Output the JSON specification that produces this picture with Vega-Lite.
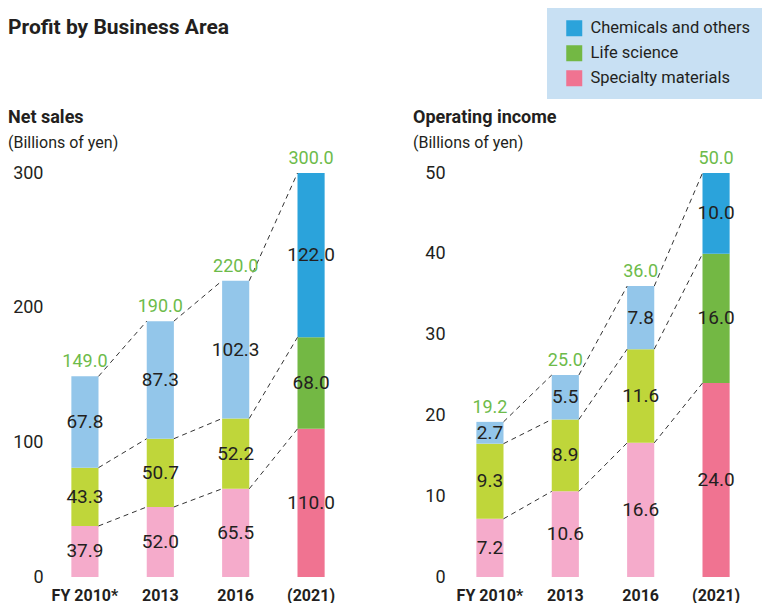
{
  "$schema": "https://vega.github.io/schema/vega-lite/v6.json",
  "autosize": {"type": "pad"},
  "padding": {"left": 8, "top": 8, "right": 0, "bottom": 0},
  "background": "white",
  "title": {"text": "Profit by Business Area", "anchor": "start", "frame": "group", "dx": -40, "offset": -30, "fontSize": 21, "fontWeight": "bold", "color": "#231f20"},
  "datasets": {
    "bars": [
      {"panel": "sales", "year": "FY 2010*", "segment": "Specialty materials", "value": 37.9},
      {"panel": "sales", "year": "FY 2010*", "segment": "Life science", "value": 43.3},
      {"panel": "sales", "year": "FY 2010*", "segment": "Chemicals and others", "value": 67.8},
      {"panel": "sales", "year": "2013", "segment": "Specialty materials", "value": 52.0},
      {"panel": "sales", "year": "2013", "segment": "Life science", "value": 50.7},
      {"panel": "sales", "year": "2013", "segment": "Chemicals and others", "value": 87.3},
      {"panel": "sales", "year": "2016", "segment": "Specialty materials", "value": 65.5},
      {"panel": "sales", "year": "2016", "segment": "Life science", "value": 52.2},
      {"panel": "sales", "year": "2016", "segment": "Chemicals and others", "value": 102.3},
      {"panel": "sales", "year": "(2021)", "segment": "Specialty materials", "value": 110.0},
      {"panel": "sales", "year": "(2021)", "segment": "Life science", "value": 68.0},
      {"panel": "sales", "year": "(2021)", "segment": "Chemicals and others", "value": 122.0},
      {"panel": "income", "year": "FY 2010*", "segment": "Specialty materials", "value": 7.2},
      {"panel": "income", "year": "FY 2010*", "segment": "Life science", "value": 9.3},
      {"panel": "income", "year": "FY 2010*", "segment": "Chemicals and others", "value": 2.7},
      {"panel": "income", "year": "2013", "segment": "Specialty materials", "value": 10.6},
      {"panel": "income", "year": "2013", "segment": "Life science", "value": 8.9},
      {"panel": "income", "year": "2013", "segment": "Chemicals and others", "value": 5.5},
      {"panel": "income", "year": "2016", "segment": "Specialty materials", "value": 16.6},
      {"panel": "income", "year": "2016", "segment": "Life science", "value": 11.6},
      {"panel": "income", "year": "2016", "segment": "Chemicals and others", "value": 7.8},
      {"panel": "income", "year": "(2021)", "segment": "Specialty materials", "value": 24.0},
      {"panel": "income", "year": "(2021)", "segment": "Life science", "value": 16.0},
      {"panel": "income", "year": "(2021)", "segment": "Chemicals and others", "value": 10.0}
    ],
    "links": [
      {"panel": "sales", "from": "FY 2010*", "to": "2013", "v_from": 37.9, "v_to": 52.0},
      {"panel": "sales", "from": "2013", "to": "2016", "v_from": 52.0, "v_to": 65.5},
      {"panel": "sales", "from": "2016", "to": "(2021)", "v_from": 65.5, "v_to": 110.0},
      {"panel": "sales", "from": "FY 2010*", "to": "2013", "v_from": 81.2, "v_to": 102.7},
      {"panel": "sales", "from": "2013", "to": "2016", "v_from": 102.7, "v_to": 117.7},
      {"panel": "sales", "from": "2016", "to": "(2021)", "v_from": 117.7, "v_to": 178.0},
      {"panel": "sales", "from": "FY 2010*", "to": "2013", "v_from": 149.0, "v_to": 190.0},
      {"panel": "sales", "from": "2013", "to": "2016", "v_from": 190.0, "v_to": 220.0},
      {"panel": "sales", "from": "2016", "to": "(2021)", "v_from": 220.0, "v_to": 300.0},
      {"panel": "income", "from": "FY 2010*", "to": "2013", "v_from": 7.2, "v_to": 10.6},
      {"panel": "income", "from": "2013", "to": "2016", "v_from": 10.6, "v_to": 16.6},
      {"panel": "income", "from": "2016", "to": "(2021)", "v_from": 16.6, "v_to": 24.0},
      {"panel": "income", "from": "FY 2010*", "to": "2013", "v_from": 16.5, "v_to": 19.5},
      {"panel": "income", "from": "2013", "to": "2016", "v_from": 19.5, "v_to": 28.2},
      {"panel": "income", "from": "2016", "to": "(2021)", "v_from": 28.2, "v_to": 40.0},
      {"panel": "income", "from": "FY 2010*", "to": "2013", "v_from": 19.2, "v_to": 25.0},
      {"panel": "income", "from": "2013", "to": "2016", "v_from": 25.0, "v_to": 36.0},
      {"panel": "income", "from": "2016", "to": "(2021)", "v_from": 36.0, "v_to": 50.0}
    ],
    "totals": [
      {"panel": "sales", "year": "FY 2010*", "total": 149.0},
      {"panel": "sales", "year": "2013", "total": 190.0},
      {"panel": "sales", "year": "2016", "total": 220.0},
      {"panel": "sales", "year": "(2021)", "total": 300.0},
      {"panel": "income", "year": "FY 2010*", "total": 19.2},
      {"panel": "income", "year": "2013", "total": 25.0},
      {"panel": "income", "year": "2016", "total": 36.0},
      {"panel": "income", "year": "(2021)", "total": 50.0}
    ]
  },
  "spacing": 105,
  "bounds": "flush",
  "resolve": {"scale": {"color": "shared", "x": "independent", "y": "independent"}, "legend": {"color": "shared"}},
  "hconcat": [
    {
      "width": 300,
      "height": 404,
      "title": {"text": "Net sales", "subtitle": "(Billions of yen)"},
      "layer": [
        {
          "data": {"name": "bars"},
          "transform": [
            {"filter": "datum.panel === 'sales'"},
            {"calculate": "indexof(['Specialty materials','Life science','Chemicals and others'], datum.segment)", "as": "ord"},
            {"calculate": "datum.year === '(2021)' ? datum.segment : datum.segment + ' (results)'", "as": "key"},
            {"stack": "value", "groupby": ["year"], "sort": [{"field": "ord", "order": "ascending"}], "as": ["v0", "v1"]}
          ],
          "mark": {"type": "bar"},
          "encoding": {
            "x": {"field": "year", "type": "nominal", "scale": {"domain": ["FY 2010*", "2013", "2016", "(2021)"], "paddingInner": 0.64, "paddingOuter": 0.31},
                  "axis": {"title": null, "labelAngle": 0, "domain": false, "ticks": false, "labelFontWeight": "bold", "labelFontSize": 16, "labelPadding": 10}},
            "y": {"field": "v1", "type": "quantitative", "scale": {"domain": [0, 300], "nice": false},
                  "axis": {"title": null, "values": [0, 100, 200, 300], "domain": false, "ticks": false, "grid": false, "labelFontSize": 18, "labelPadding": 5}},
            "y2": {"field": "v0"},
            "color": {"field": "key", "type": "nominal", "scale": {
              "domain": ["Chemicals and others", "Life science", "Specialty materials", "Chemicals and others (results)", "Life science (results)", "Specialty materials (results)"],
              "range": ["#2ba3db", "#73b844", "#f07391", "#93c6ea", "#bfd63a", "#f5abcb"]},
              "legend": {"title": null, "values": ["Chemicals and others", "Life science", "Specialty materials"], "orient": "none", "legendX": 499, "legendY": -165}}
          }
        },
        {
          "data": {"name": "bars"},
          "transform": [
            {"filter": "datum.panel === 'sales'"},
            {"calculate": "indexof(['Specialty materials','Life science','Chemicals and others'], datum.segment)", "as": "ord"},
            {"stack": "value", "groupby": ["year"], "sort": [{"field": "ord", "order": "ascending"}], "as": ["v0", "v1"]},
            {"calculate": "(datum.v0 + datum.v1) / 2", "as": "mid"}
          ],
          "mark": {"type": "text", "fontSize": 19, "color": "#231f20", "baseline": "middle"},
          "encoding": {
            "x": {"field": "year", "type": "nominal", "scale": {"domain": ["FY 2010*", "2013", "2016", "(2021)"], "paddingInner": 0.64, "paddingOuter": 0.31}},
            "y": {"field": "mid", "type": "quantitative", "scale": {"domain": [0, 300], "nice": false}},
            "text": {"field": "value", "type": "quantitative", "format": ".1f"}
          }
        },
        {
          "data": {"name": "links"},
          "transform": [{"filter": "datum.panel === 'sales'"}],
          "mark": {"type": "rule", "strokeDash": [5, 4], "strokeWidth": 1, "color": "#333333"},
          "encoding": {
            "x": {"field": "from", "type": "nominal", "bandPosition": 1, "scale": {"domain": ["FY 2010*", "2013", "2016", "(2021)"], "paddingInner": 0.64, "paddingOuter": 0.31}},
            "x2": {"field": "to", "bandPosition": 0},
            "y": {"field": "v_from", "type": "quantitative", "scale": {"domain": [0, 300], "nice": false}},
            "y2": {"field": "v_to"}
          }
        },
        {
          "data": {"name": "totals"},
          "transform": [{"filter": "datum.panel === 'sales'"}],
          "mark": {"type": "text", "fontSize": 18, "color": "#6dbb4a", "baseline": "bottom", "dy": -5},
          "encoding": {
            "x": {"field": "year", "type": "nominal", "scale": {"domain": ["FY 2010*", "2013", "2016", "(2021)"], "paddingInner": 0.64, "paddingOuter": 0.31}},
            "y": {"field": "total", "type": "quantitative", "scale": {"domain": [0, 300], "nice": false}},
            "text": {"field": "total", "type": "quantitative", "format": ".1f"}
          }
        }
      ]
    },
    {
      "width": 300,
      "height": 404,
      "title": {"text": "Operating income", "subtitle": "(Billions of yen)"},
      "layer": [
        {
          "data": {"name": "bars"},
          "transform": [
            {"filter": "datum.panel === 'income'"},
            {"calculate": "indexof(['Specialty materials','Life science','Chemicals and others'], datum.segment)", "as": "ord"},
            {"calculate": "datum.year === '(2021)' ? datum.segment : datum.segment + ' (results)'", "as": "key"},
            {"stack": "value", "groupby": ["year"], "sort": [{"field": "ord", "order": "ascending"}], "as": ["v0", "v1"]}
          ],
          "mark": {"type": "bar"},
          "encoding": {
            "x": {"field": "year", "type": "nominal", "scale": {"domain": ["FY 2010*", "2013", "2016", "(2021)"], "paddingInner": 0.64, "paddingOuter": 0.31},
                  "axis": {"title": null, "labelAngle": 0, "domain": false, "ticks": false, "labelFontWeight": "bold", "labelFontSize": 16, "labelPadding": 10}},
            "y": {"field": "v1", "type": "quantitative", "scale": {"domain": [0, 50], "nice": false},
                  "axis": {"title": null, "values": [0, 10, 20, 30, 40, 50], "domain": false, "ticks": false, "grid": false, "labelFontSize": 18, "labelPadding": 8}},
            "y2": {"field": "v0"},
            "color": {"field": "key", "type": "nominal", "scale": {
              "domain": ["Chemicals and others", "Life science", "Specialty materials", "Chemicals and others (results)", "Life science (results)", "Specialty materials (results)"],
              "range": ["#2ba3db", "#73b844", "#f07391", "#93c6ea", "#bfd63a", "#f5abcb"]},
              "legend": {"title": null, "values": ["Chemicals and others", "Life science", "Specialty materials"], "orient": "none", "legendX": 499, "legendY": -165}}
          }
        },
        {
          "data": {"name": "bars"},
          "transform": [
            {"filter": "datum.panel === 'income'"},
            {"calculate": "indexof(['Specialty materials','Life science','Chemicals and others'], datum.segment)", "as": "ord"},
            {"stack": "value", "groupby": ["year"], "sort": [{"field": "ord", "order": "ascending"}], "as": ["v0", "v1"]},
            {"calculate": "(datum.v0 + datum.v1) / 2", "as": "mid"}
          ],
          "mark": {"type": "text", "fontSize": 19, "color": "#231f20", "baseline": "middle"},
          "encoding": {
            "x": {"field": "year", "type": "nominal", "scale": {"domain": ["FY 2010*", "2013", "2016", "(2021)"], "paddingInner": 0.64, "paddingOuter": 0.31}},
            "y": {"field": "mid", "type": "quantitative", "scale": {"domain": [0, 50], "nice": false}},
            "text": {"field": "value", "type": "quantitative", "format": ".1f"}
          }
        },
        {
          "data": {"name": "links"},
          "transform": [{"filter": "datum.panel === 'income'"}],
          "mark": {"type": "rule", "strokeDash": [5, 4], "strokeWidth": 1, "color": "#333333"},
          "encoding": {
            "x": {"field": "from", "type": "nominal", "bandPosition": 1, "scale": {"domain": ["FY 2010*", "2013", "2016", "(2021)"], "paddingInner": 0.64, "paddingOuter": 0.31}},
            "x2": {"field": "to", "bandPosition": 0},
            "y": {"field": "v_from", "type": "quantitative", "scale": {"domain": [0, 50], "nice": false}},
            "y2": {"field": "v_to"}
          }
        },
        {
          "data": {"name": "totals"},
          "transform": [{"filter": "datum.panel === 'income'"}],
          "mark": {"type": "text", "fontSize": 18, "color": "#6dbb4a", "baseline": "bottom", "dy": -5},
          "encoding": {
            "x": {"field": "year", "type": "nominal", "scale": {"domain": ["FY 2010*", "2013", "2016", "(2021)"], "paddingInner": 0.64, "paddingOuter": 0.31}},
            "y": {"field": "total", "type": "quantitative", "scale": {"domain": [0, 50], "nice": false}},
            "text": {"field": "total", "type": "quantitative", "format": ".1f"}
          }
        }
      ]
    }
  ],
  "config": {
    "font": "Roboto",
    "view": {"stroke": null},
    "axis": {"labelColor": "#231f20", "labelFont": "Roboto"},
    "text": {"font": "Roboto"},
    "title": {"anchor": "start", "frame": "group", "dx": -40, "fontSize": 18, "fontWeight": "bold", "color": "#231f20", "subtitleFontSize": 16, "subtitleColor": "#231f20", "subtitlePadding": 8, "offset": -1, "font": "Roboto", "subtitleFont": "Roboto"},
    "legend": {"fillColor": "#c8e0f3", "padding": 12, "symbolType": "square", "symbolSize": 256, "symbolOffset": 7, "labelOffset": 8, "labelFontSize": 16.5, "labelLimit": 400, "labelColor": "#231f20", "rowPadding": 8, "labelFont": "Roboto", "symbolStrokeWidth": 0}
  }
}
